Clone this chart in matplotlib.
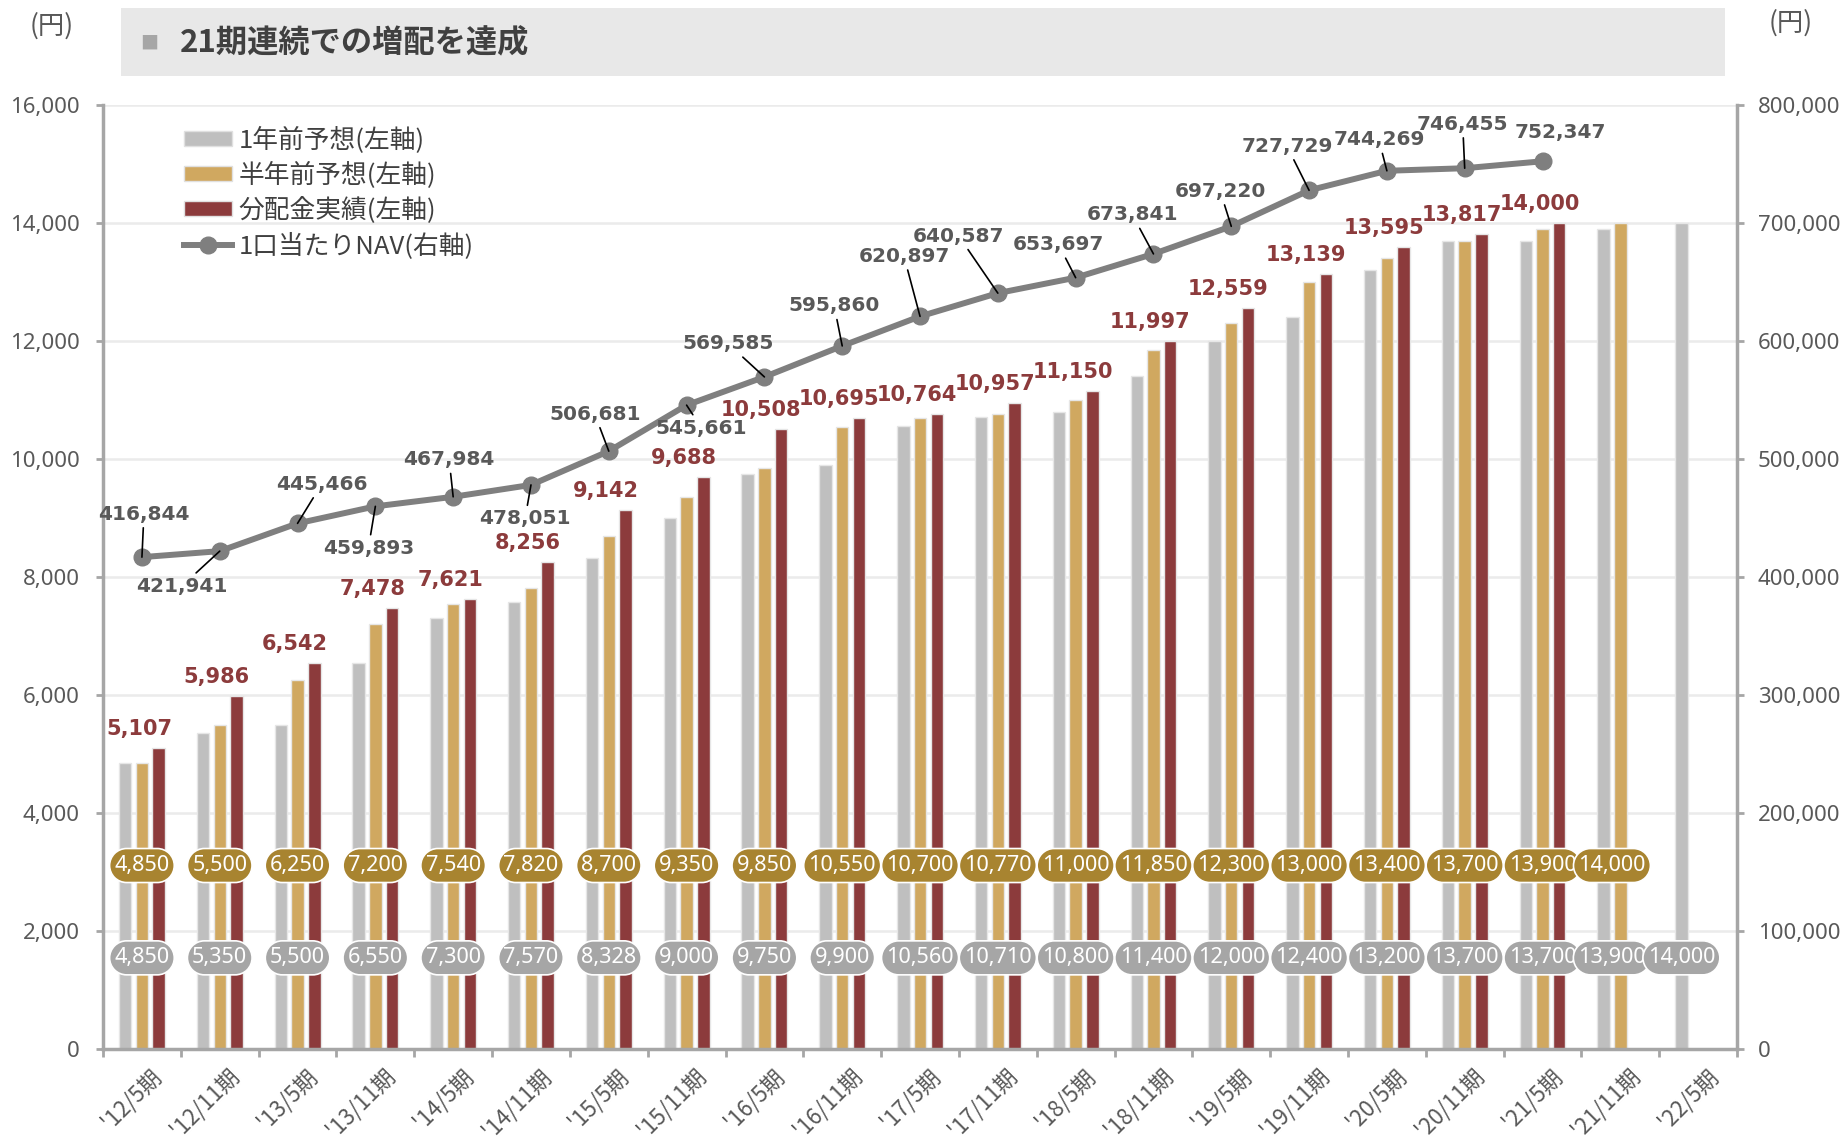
import matplotlib
matplotlib.use("Agg")
import matplotlib.pyplot as plt
import matplotlib.transforms as mtransforms
from matplotlib.patches import Rectangle, Patch, BoxStyle
from matplotlib.path import Path
from matplotlib.lines import Line2D
from matplotlib.ticker import FuncFormatter
import numpy as np

plt.rcParams["font.family"] = ["Noto Sans CJK JP", "DejaVu Sans"]

# データ
periods = ["'12/5期", "'12/11期", "'13/5期", "'13/11期", "'14/5期", "'14/11期",
           "'15/5期", "'15/11期", "'16/5期", "'16/11期", "'17/5期", "'17/11期",
           "'18/5期", "'18/11期", "'19/5期", "'19/11期", "'20/5期", "'20/11期",
           "'21/5期", "'21/11期", "'22/5期"]
forecast_1y = [4850, 5350, 5500, 6550, 7300, 7570, 8328, 9000, 9750, 9900, 10560,
               10710, 10800, 11400, 12000, 12400, 13200, 13700, 13700, 13900, 14000]
forecast_half = [4850, 5500, 6250, 7200, 7540, 7820, 8700, 9350, 9850, 10550, 10700,
                 10770, 11000, 11850, 12300, 13000, 13400, 13700, 13900, 14000, None]
actual = [5107, 5986, 6542, 7478, 7621, 8256, 9142, 9688, 10508, 10695, 10764,
          10957, 11150, 11997, 12559, 13139, 13595, 13817, 14000, None, None]
nav = [416844, 421941, 445466, 459893, 467984, 478051, 506681, 545661, 569585,
       595860, 620897, 640587, 653697, 673841, 697220, 727729, 744269, 746455, 752347]

# NAVラベルの位置 (点からのずれ, ピクセル)
nav_offsets = [(2, 43), (-38, -35), (24, 39), (-7, -42), (-4, 37), (-6, -34),
               (-14, 37), (15, -23), (-36, 33), (-8, 40), (-16, 60), (-39, 57),
               (-17, 33), (-21, 39), (-11, 35), (-22, 44), (-8, 31), (-2, 44), (18, 29)]

c_grey = "#BFBFBF"
c_gold = "#D0A860"
c_red = "#8C3B3C"
c_nav = "#7F7F7F"
c_axis = "#A6A6A6"
c_text = "#595959"


class Pill(BoxStyle.Round):
    """両端が半円のラベル枠"""
    def __init__(self, pad=0.12, ey=0.3):
        super().__init__(pad=pad)
        self.ey = ey

    def __call__(self, x0, y0, width, height, mutation_size):
        px = self.pad * mutation_size
        py = self.ey * mutation_size
        xa, xb = x0 - px, x0 + width + px
        ya, yb = y0 - py, y0 + height + py
        r = (yb - ya) / 2
        cy = (ya + yb) / 2
        right = Path.arc(-90, 90)
        left = Path.arc(90, 270)
        v_r = right.vertices * r + (xb - r, cy)
        v_l = left.vertices * r + (xa + r, cy)
        verts = np.concatenate([v_r, v_l, v_r[:1]])
        codes = np.concatenate([right.codes, [Path.LINETO], left.codes[1:], [Path.CLOSEPOLY]])
        return Path(verts, codes)


fig = plt.figure(figsize=(18.43, 11.38), dpi=100)
ax = fig.add_axes([0.0559, 0.0782, 0.8866, 0.8295])
ax2 = ax.twinx()

n = len(periods)
x = np.arange(n)
step = 0.215
bw = 0.16
series = [(forecast_1y, -step, c_grey), (forecast_half, 0, c_gold), (actual, step, c_red)]
for vals, off, col in series:
    idx = [i for i, v in enumerate(vals) if v is not None]
    ax.bar([x[i] + off for i in idx], [vals[i] for i in idx], width=bw,
           color=col, edgecolor="#E6E6E6", linewidth=1, zorder=2)

# 各期のラベル中心 (存在する棒の中心)
def label_x(i):
    offs = [off for vals, off, col in series if vals[i] is not None]
    return x[i] + np.mean(offs)

box_kw = dict(ha="center", va="center", color="white", fontsize=15.6,
              family=["Noto Sans", "DejaVu Sans"], zorder=5)
for i, v in enumerate(forecast_1y):
    ax.text(label_x(i), 1545, f"{v:,}", bbox=dict(
        boxstyle=Pill(pad=0.22, ey=0.3), fc="#A6A6A6", ec="white", lw=1.2),
        **box_kw)
for i, v in enumerate(forecast_half):
    if v is None:
        continue
    ax.text(label_x(i), 3110, f"{v:,}", bbox=dict(
        boxstyle=Pill(pad=0.22, ey=0.3), fc="#A88430", ec="white", lw=1.2),
        **box_kw)
for i, v in enumerate(actual):
    if v is None:
        continue
    ax.annotate(f"{v:,}", (label_x(i), v), xytext=(-3, 19), textcoords="offset pixels",
                ha="center", va="center", fontsize=15, fontweight="bold",
                family=["DejaVu Sans"], color=c_red, zorder=6)

# NAV
ax2.plot(x[:len(nav)], nav, color=c_nav, lw=4.3, marker="o", ms=12, zorder=3)
for i, v in enumerate(nav):
    dx, dy = nav_offsets[i]
    arrow = None
    if i < len(nav) - 1:
        arrow = dict(arrowstyle="-", color="black", lw=1.2, shrinkA=1, shrinkB=0)
    ax2.annotate(f"{v:,}", (x[i], v), xytext=(dx, dy), textcoords="offset pixels",
                 ha="center", va="center", fontsize=14.5, fontweight="bold",
                 family=["DejaVu Sans"], color=c_text, arrowprops=arrow, zorder=6)

# 軸
ax.set_xlim(-0.5, n - 0.5)
ax.set_ylim(0, 16000)
ax2.set_ylim(0, 800000)
ax.set_yticks(np.arange(0, 16001, 2000))
ax2.set_yticks(np.arange(0, 800001, 100000))
fmt = FuncFormatter(lambda v, p: f"{int(v):,}")
ax.yaxis.set_major_formatter(fmt)
ax2.yaxis.set_major_formatter(fmt)

ax.set_xticks(np.arange(-0.5, n, 1.0))
ax.set_xticklabels([])
ax.set_xticks(x, minor=True)
ax.set_xticklabels(periods, minor=True, rotation=45, ha="right", va="top",
                   rotation_mode="anchor", fontsize=16, color=c_text)
ax.tick_params(axis="x", which="major", length=6, width=2, color=c_axis)
ax.tick_params(axis="x", which="minor", length=0, pad=11)
shift = mtransforms.ScaledTranslation(0.08, 0, fig.dpi_scale_trans)
for lab in ax.get_xticklabels(minor=True):
    lab.set_transform(lab.get_transform() + shift)

ax.tick_params(axis="y", length=5, width=2, color=c_axis, labelsize=16,
               labelcolor=c_text, pad=12)
ax2.tick_params(axis="y", length=5, width=2, color=c_axis, labelsize=16,
                labelcolor=c_text, pad=10)
for lab in ax.get_yticklabels() + ax2.get_yticklabels():
    lab.set_family(["Noto Sans", "DejaVu Sans"])

ax.yaxis.grid(True, color="#EBEBEB", lw=1.8, zorder=0)
ax.set_axisbelow(True)
for s in ["top", "right"]:
    ax.spines[s].set_visible(False)
for s in ["top", "left", "bottom"]:
    ax2.spines[s].set_visible(False)
ax.spines["left"].set_color(c_axis)
ax.spines["left"].set_linewidth(2.5)
ax.spines["bottom"].set_color(c_axis)
ax.spines["bottom"].set_linewidth(2.5)
ax2.spines["right"].set_color(c_axis)
ax2.spines["right"].set_linewidth(2.5)

# 凡例
handles = [Patch(fc=c_grey, ec="#E0E0E0"), Patch(fc=c_gold, ec="#E0E0E0"),
           Patch(fc=c_red, ec="#E0E0E0"),
           Line2D([0], [0], color=c_nav, lw=4.3, marker="o", ms=12)]
labels = ["1年前予想(左軸)", "半年前予想(左軸)", "分配金実績(左軸)", "1口当たりNAV(右軸)"]
leg = fig.legend(handles, labels, loc="upper left", bbox_to_anchor=(0.100, 0.889),
                 frameon=False, fontsize=18.5, handlelength=1.85, handleheight=0.5,
                 handletextpad=0.25, labelspacing=0.32, borderpad=0, borderaxespad=0)
for t in leg.get_texts():
    t.set_color("#404040")

# タイトル
fig.patches.append(Rectangle((0.0657, 0.9332), 0.8703, 0.0598, transform=fig.transFigure,
                             fc="#E8E8E8", ec="none", zorder=0))
fig.text(0.0808, 0.9618, "■", ha="center", va="center", fontsize=13, color=c_axis)
fig.text(0.0977, 0.9618, "21期連続での増配を達成", ha="left", va="center",
         fontsize=22.5, fontweight="bold", color="#404040")
fig.text(0.0282, 0.9772, "(円)", ha="center", va="center", fontsize=19, color=c_text)
fig.text(0.9718, 0.9800, "(円)", ha="center", va="center", fontsize=19, color=c_text)

fig.savefig("out.png", dpi=100)
